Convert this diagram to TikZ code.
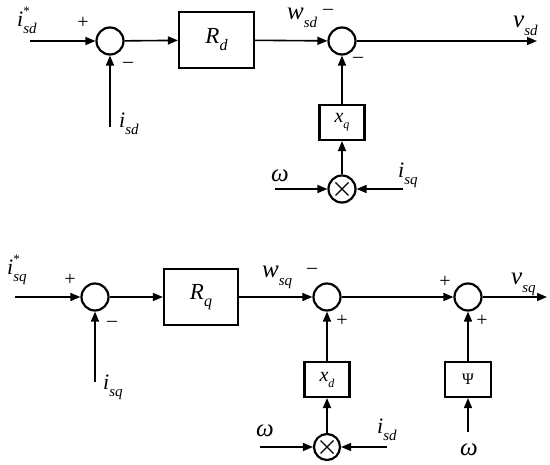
\documentclass[tikz,border=0pt]{standalone}
\usepackage{fontspec}
\setmainfont{Liberation Serif}
\usetikzlibrary{arrows.meta}
\newcommand\lbl[3]{\textit{#1}\makebox[0pt][l]{\raisebox{0.5em}{\fontsize{13}{13}\selectfont #3}}\raisebox{-0.3em}{\fontsize{15}{15}\selectfont\textit{#2}}}
\begin{document}
\begin{tikzpicture}[x=1pt,y=-1pt,
  sumnode/.style={circle,draw,line width=2.2pt,minimum size=27pt,inner sep=0pt},
  blk/.style={draw,line width=2.2pt,inner sep=0pt},
  conn/.style={line width=1.6pt,-{Triangle[length=10pt,width=8pt]}},
  sgn/.style={inner sep=0pt,font=\fontsize{20}{20}\selectfont},
  lab/.style={inner sep=0pt,anchor=base west,font=\fontsize{22}{22}\selectfont},
  labv/.style={inner sep=0pt,anchor=base west,font=\fontsize{25}{25}\selectfont},
  lab2/.style={inner sep=0pt,anchor=base west,font=\fontsize{25}{25}\selectfont},
  om/.style={inner sep=0pt,anchor=base west,font=\fontsize{25}{25}\selectfont}]
\useasboundingbox (0,0) rectangle (550,465);
% ---------- top loop ----------
\coordinate (in1) at (30,41);
\coordinate (ib1) at (110,127);
\coordinate (out1) at (537,41);
\coordinate (wl1) at (275,189);
\coordinate (ir1) at (403,189);
\node[sumnode] (s1) at (110,41) {};
\node[blk,minimum width=75pt,minimum height=56pt,font=\fontsize{23}{23}\selectfont] (Rd) at (216.5,40) {\textit{R}\raisebox{-0.3em}{\fontsize{16}{16}\selectfont\textit{d}}};
\node[sumnode] (s2) at (342,41) {};
\node[blk,minimum width=45pt,minimum height=35pt,font=\fontsize{20}{20}\selectfont] (xq) at (342,122.5) {\textit{x}\raisebox{-0.3em}{\fontsize{12}{12}\selectfont\textit{q}}};
\node[sumnode] (m1) at (342,189) {};
\draw[line width=1.1pt] ([shift={(-6.5,-6.5)}]m1.center) -- ([shift={(6.5,6.5)}]m1.center);
\draw[line width=1.1pt] ([shift={(-6.5,6.5)}]m1.center) -- ([shift={(6.5,-6.5)}]m1.center);
\draw[conn] (in1) -- (s1);
\draw[conn] (ib1) -- (s1);
\draw[conn] (s1) -- (Rd);
\draw[conn] (Rd) -- (s2);
\draw[conn] (s2) -- (out1);
\draw[conn] (xq) -- (s2);
\draw[conn] (m1) -- (xq);
\draw[conn] (wl1) -- (m1);
\draw[conn] (ir1) -- (m1);
\node[lab] (l1) at (17,27) {\lbl{i}{sd}{*}};
\node[sgn] (p1) at (83,23) {+};
\node[sgn] (n1) at (128,65) {\textendash};
\node[lab] (l2) at (119,128) {\lbl{i}{sd}{}};
\node[lab2] (l3) at (287,20) {\lbl{w}{sd}{}};
\node[sgn] (n2) at (328,12) {\textendash};
\node[sgn] (n3) at (358,60) {\textendash};
\node[labv] (l4) at (513,28) {\lbl{v}{sd}{}};
\node[om] (l5) at (271,182) {\textit{ω}};
\node[lab] (l6) at (398,178) {\lbl{i}{sq}{}};
% ---------- bottom loop ----------
\coordinate (in2) at (15,297);
\coordinate (ib2) at (95,382);
\coordinate (out2) at (547,297);
\coordinate (wl2) at (260,447);
\coordinate (ir2) at (387,447);
\coordinate (wb2) at (468,432);
\node[sumnode] (s3) at (95,297) {};
\node[blk,minimum width=74pt,minimum height=56pt,font=\fontsize{23}{23}\selectfont] (Rq) at (201,297) {\textit{R}\raisebox{-0.3em}{\fontsize{16}{16}\selectfont\textit{q}}};
\node[sumnode] (s4) at (327,297) {};
\node[sumnode] (s5) at (468,297) {};
\node[blk,minimum width=45pt,minimum height=35pt,font=\fontsize{20}{20}\selectfont] (xd) at (327,379.5) {\textit{x}\raisebox{-0.3em}{\fontsize{12}{12}\selectfont\textit{d}}};
\node[blk,minimum width=46pt,minimum height=35pt,font=\fontsize{16}{16}\selectfont] (psi) at (468,379.5) {Ψ};
\node[sumnode,minimum size=26pt] (m2) at (327,447) {};
\draw[line width=1.1pt] ([shift={(-6.5,-6.5)}]m2.center) -- ([shift={(6.5,6.5)}]m2.center);
\draw[line width=1.1pt] ([shift={(-6.5,6.5)}]m2.center) -- ([shift={(6.5,-6.5)}]m2.center);
\draw[conn] (in2) -- (s3);
\draw[conn] (ib2) -- (s3);
\draw[conn] (s3) -- (Rq);
\draw[conn] (Rq) -- (s4);
\draw[conn] (s4) -- (s5);
\draw[conn] (s5) -- (out2);
\draw[conn] (xd) -- (s4);
\draw[conn] (psi) -- (s5);
\draw[conn] (m2) -- (xd);
\draw[conn] (wl2) -- (m2);
\draw[conn] (ir2) -- (m2);
\draw[conn] (wb2) -- (psi);
\node[lab] (k1) at (7,275) {\lbl{i}{sq}{*}};
\node[sgn] (q1) at (70,280) {+};
\node[sgn] (q2) at (112,324) {\textendash};
\node[lab] (k2) at (103,390) {\lbl{i}{sq}{}};
\node[lab2] (k3) at (262,278) {\lbl{w}{sq}{}};
\node[sgn] (q3) at (312,271) {\textendash};
\node[sgn] (q4) at (342,321) {+};
\node[sgn] (q5) at (445,282) {+};
\node[sgn] (q6) at (482,321) {+};
\node[labv] (k4) at (511,285) {\lbl{v}{sq}{}};
\node[om] (k5) at (256,437) {\textit{ω}};
\node[lab] (k6) at (377,434) {\lbl{i}{sd}{}};
\node[om,anchor=base] (k7) at (469,456) {\textit{ω}};
\end{tikzpicture}
\end{document}
